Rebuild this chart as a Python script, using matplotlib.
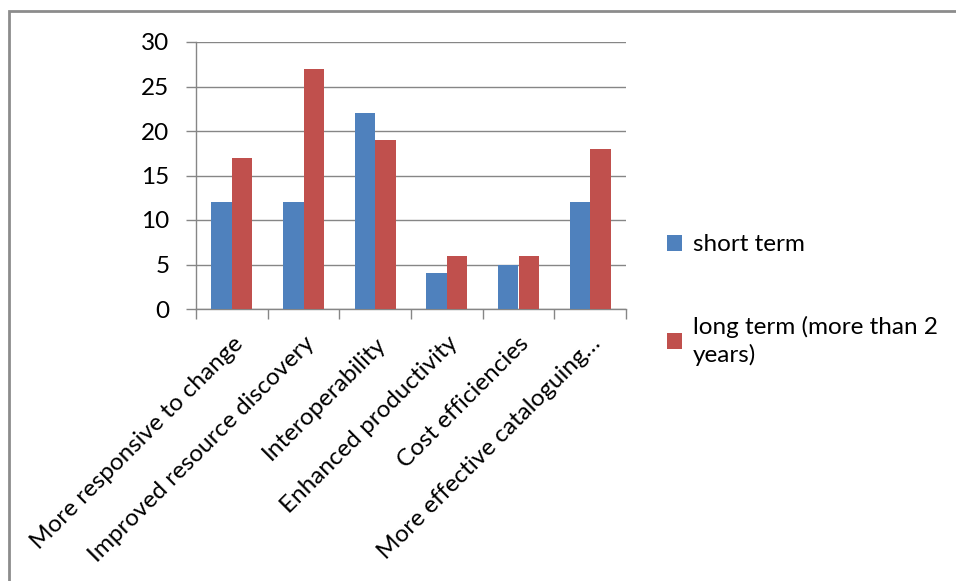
import matplotlib
matplotlib.use("Agg")
import matplotlib.pyplot as plt
from matplotlib.patches import Rectangle, Patch
import numpy as np

categories = [
    "More responsive to change",
    "Improved resource discovery",
    "Interoperability",
    "Enhanced productivity",
    "Cost efficiencies",
    "More effective cataloguing\u2026",
]
short_term = [12, 12, 22, 4, 5, 12]
long_term = [17, 27, 19, 6, 6, 18]
series_labels = ["short term", "long term (more than 2\nyears)"]
y_ticks = [0, 5, 10, 15, 20, 25, 30]

BLUE = "#4F81BD"
RED = "#C0504D"
GRID = "#868686"
FONT = "Lato"
FS = 17.5

fig = plt.figure(figsize=(9.56, 5.81), dpi=100)
fig.patch.set_facecolor("white")

# outer chart frame (runs past the right and bottom edges)
fig.patches.append(Rectangle((9 / 956, -0.1), 1.2, 1.1 - 12 / 581 + 0.001,
                             transform=fig.transFigure, fill=False,
                             edgecolor="#8c8c8c", linewidth=2))

ax = fig.add_axes([196 / 956, 1 - 309 / 581, 430 / 956, 267 / 581])

x = np.arange(len(categories))
cat_w = 1.0
bar_w = cat_w / 3.5
ax.bar(x - bar_w / 2, short_term, width=bar_w, color=BLUE, zorder=3)
ax.bar(x + bar_w / 2, long_term, width=bar_w, color=RED, zorder=3)

ax.set_xlim(-0.5, len(categories) - 0.5)
ax.set_ylim(0, 30)
ax.set_yticks(y_ticks)
ax.yaxis.grid(True, color=GRID, linewidth=1, zorder=0)
ax.set_axisbelow(True)

for s in ["top", "right"]:
    ax.spines[s].set_visible(False)
for s in ["left", "bottom"]:
    ax.spines[s].set_color(GRID)
    ax.spines[s].set_linewidth(1)

ax.tick_params(axis="y", length=7, color=GRID, width=1, pad=12,
               labelsize=FS)
for lab in ax.get_yticklabels():
    lab.set_fontfamily(FONT)

ax.set_xticks(x)
ax.set_xticks(np.arange(-0.5, len(categories)), minor=True)
ax.tick_params(axis="x", which="major", length=0, pad=17)
ax.tick_params(axis="x", which="minor", length=7, color=GRID, width=1)
ax.set_xticklabels(categories, rotation=45, ha="right", va="top",
                   rotation_mode="anchor", fontsize=FS, fontfamily=FONT)

handles = [Patch(facecolor=BLUE), Patch(facecolor=RED)]
leg = fig.legend(handles, series_labels, loc="upper left",
                 bbox_to_anchor=(648 / 956, 1 - 215 / 581),
                 frameon=False, prop={"family": FONT, "size": FS},
                 handlelength=0.6, handleheight=0.6, handletextpad=0.45,
                 labelspacing=2.5, borderpad=0.3)
for t in leg.get_texts():
    t.set_linespacing(1.3)

fig.savefig("out.png", dpi=100)
